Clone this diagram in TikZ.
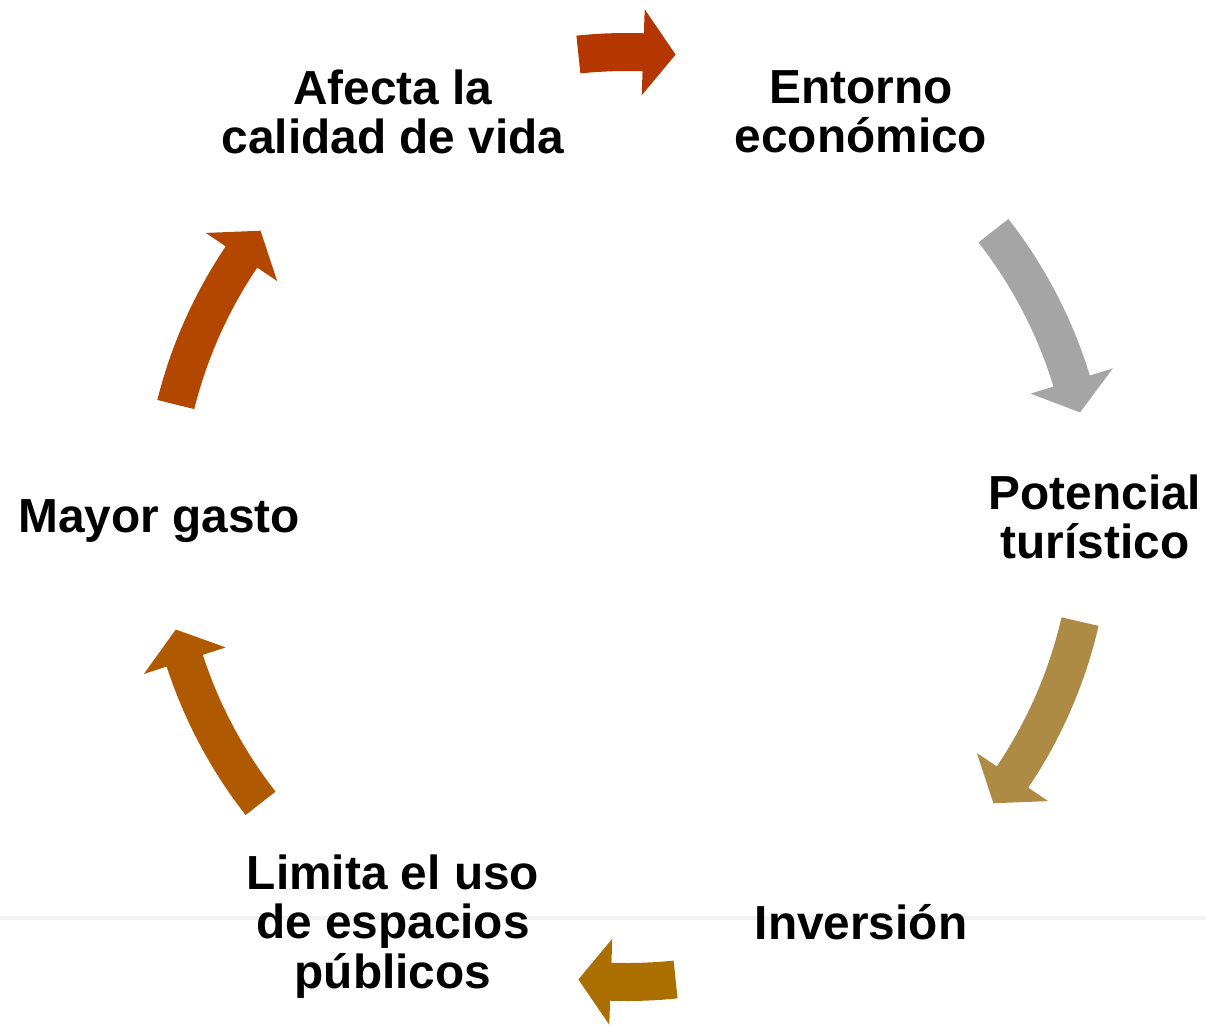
\documentclass[tikz,border=0pt]{standalone}
\usepackage{fontspec}
\setmainfont{Liberation Sans}
\definecolor{redone}{HTML}{B43600}
\definecolor{greytwo}{HTML}{A5A5A5}
\definecolor{tanthree}{HTML}{AE8B45}
\definecolor{goldfour}{HTML}{AA6F00}
\definecolor{brownfive}{HTML}{AF5A00}
\definecolor{rustsix}{HTML}{B44700}
\tikzset{
  cyctext/.style={align=center, inner sep=0pt, font=\bfseries\fontsize{23.9}{24.75}\selectfont},
  cycarrow/.style={fill=#1, draw=none}
}

\begin{document}
\begin{tikzpicture}[x=0.5pt,y=0.5pt]
\useasboundingbox (-627,-508) rectangle (579,517);
\coordinate (hub) at (0,0);

%Faint rule behind the bottom row
\draw[line width=2pt, black!5] (-627,-401) -- (579,-401);

%Steps of the cycle
\node[cyctext] (afecta) at (120:468) {Afecta la\\calidad de vida};
\node[cyctext] (entorno) at (60:468) {Entorno\\económico};
\node[cyctext] (potencial) at (0:468) {Potencial\\turístico};
\node[cyctext] (inversion) at (-60:468) {Inversión};
\node[cyctext] (limita) at ([yshift=-2pt]-120:468) {Limita el uso\\de espacios\\públicos};
\node[cyctext] (mayor) at ([yshift=-2pt]180:468) {Mayor gasto};

%Afecta -> Entorno
\fill[cycarrow=redone] (96:484) arc[start angle=96, end angle=88, radius=484]
  -- (88:508) -- (84:465) -- (88:422) -- (88:446) arc[start angle=88, end angle=96, radius=446] -- cycle;
%Entorno -> Potencial
\fill[cycarrow=greytwo] (38:484) arc[start angle=38, end angle=17, radius=484]
  -- (17:508) -- (13:465) -- (17:422) -- (17:446) arc[start angle=17, end angle=38, radius=446] -- cycle;
%Potencial -> Inversion
\fill[cycarrow=tanthree] (-13:484) arc[start angle=-13, end angle=-34, radius=484]
  -- (-34:508) -- (-38:465) -- (-34:422) -- (-34:446) arc[start angle=-34, end angle=-13, radius=446] -- cycle;
%Inversion -> Limita
\fill[cycarrow=goldfour] (-84:484) arc[start angle=-84, end angle=-92, radius=484]
  -- (-92:508) -- (-96:465) -- (-92:422) -- (-92:446) arc[start angle=-92, end angle=-84, radius=446] -- cycle;
%Limita -> Mayor
\fill[cycarrow=brownfive] (-142:484) arc[start angle=-142, end angle=-162, radius=484]
  -- (-162:508) -- (-166:465) -- (-162:422) -- (-162:446) arc[start angle=-162, end angle=-142, radius=446] -- cycle;
%Mayor -> Afecta
\fill[cycarrow=rustsix] (166:484) arc[start angle=166, end angle=146, radius=484]
  -- (146:508) -- (142:465) -- (146:422) -- (146:446) arc[start angle=146, end angle=166, radius=446] -- cycle;

\end{tikzpicture}
\end{document}
